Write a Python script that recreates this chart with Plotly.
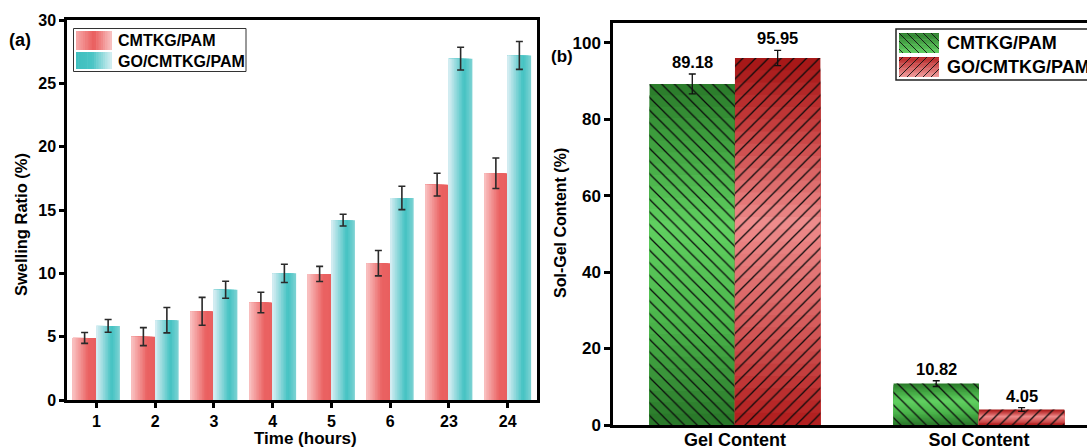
import plotly.graph_objects as go

W, H = 1087, 448
FONT = "Liberation Sans, Arial, Helvetica, sans-serif"

# ---------------- data ----------------
time_labels = ["1", "2", "3", "4", "5", "6", "23", "24"]
swell_cmtkg = [4.9, 5.0, 7.0, 7.7, 9.95, 10.8, 17.0, 17.9]
swell_cmtkg_err = [0.43, 0.71, 1.1, 0.81, 0.6, 1.0, 0.9, 1.2]
swell_go = [5.85, 6.3, 8.7, 10.0, 14.2, 15.95, 26.95, 27.2]
swell_go_err = [0.5, 1.0, 0.67, 0.72, 0.46, 0.92, 0.9, 1.1]

content_labels = ["Gel Content", "Sol Content"]
content_cmtkg = [89.18, 10.82]
content_cmtkg_err = [2.6, 0.75]
content_go = [95.95, 4.05]
content_go_err = [2.0, 0.5]

series_names = ["CMTKG/PAM", "GO/CMTKG/PAM"]


# ---------------- helpers ----------------
def hex2rgb(h):
    h = h.lstrip("#")
    return [int(h[i:i + 2], 16) for i in (0, 2, 4)]


def grad(stops, t):
    for (p0, c0), (p1, c1) in zip(stops[:-1], stops[1:]):
        if p0 <= t <= p1:
            f = 0 if p1 == p0 else (t - p0) / (p1 - p0)
            a, b = hex2rgb(c0), hex2rgb(c1)
            r = [round(a[i] + (b[i] - a[i]) * f) for i in range(3)]
            return "rgb(%d,%d,%d)" % tuple(r)
    return stops[-1][1]


def px(x, y):
    return x / W, 1 - y / H


pink_stops = [(0, "#fac3c3"), (0.65, "#ea6262"), (1, "#e95f5f")]
teal_stops = [(0, "#d9eef4"), (0.65, "#43c2c2"), (1, "#7fd3d4")]
green_stops = [(0, "#287528"), (0.3, "#4bb54b"), (0.58, "#60d060"), (0.85, "#3c9c3c"), (1, "#2a7a2a")]
red_stops = [(0, "#b01c1c"), (0.3, "#d86060"), (0.55, "#ee8c8c"), (0.82, "#c43c3c"), (1, "#a41414")]

fig = go.Figure()

# ---------------- panel (a): gradient bars ----------------
NS = 14
HALF = 0.4
for vals, errs, stops, off in [
    (swell_cmtkg, swell_cmtkg_err, pink_stops, -HALF),
    (swell_go, swell_go_err, teal_stops, 0.0),
]:
    for j in range(NS - 1, -1, -1):
        fig.add_trace(go.Bar(
            x=time_labels, y=vals, offset=off, width=HALF * (j + 1) / NS,
            marker=dict(color=grad(stops, (j + 0.5) / NS), line=dict(width=0)),
            xaxis="x", yaxis="y", showlegend=False, hoverinfo="skip"))
    fig.add_trace(go.Bar(
        x=time_labels, y=vals, offset=off, width=HALF,
        marker=dict(color="rgba(0,0,0,0)", line=dict(width=0)),
        error_y=dict(type="data", array=errs, color="#2a2a2a", thickness=1.6, width=3.5),
        xaxis="x", yaxis="y", showlegend=False))

# ---------------- panel (b): vertical gradient + hatch ----------------
NV = 30
BW = 0.35
for vals, errs, stops, off, shape in [
    (content_cmtkg, content_cmtkg_err, green_stops, -BW, "\\"),
    (content_go, content_go_err, red_stops, 0.0, "/"),
]:
    for j in range(NV - 1, -1, -1):
        fig.add_trace(go.Bar(
            x=content_labels, y=[v * (j + 1) / NV for v in vals], offset=off, width=BW,
            marker=dict(color=grad(stops, (j + 0.5) / NV), line=dict(width=0)),
            xaxis="x2", yaxis="y2", showlegend=False, hoverinfo="skip"))
    fig.add_trace(go.Bar(
        x=content_labels, y=vals, offset=off, width=BW,
        marker=dict(color="rgba(0,0,0,0)", line=dict(width=0),
                    pattern=dict(shape=shape, fgcolor="#0a0a0a", bgcolor="rgba(0,0,0,0)",
                                 size=9, solidity=0.14)),
        error_y=dict(type="data", array=errs, color="#111111", thickness=1.3, width=3.5),
        xaxis="x2", yaxis="y2", showlegend=False))

annotations = []
for vals, errs, dx in [(content_cmtkg, content_cmtkg_err, -BW / 2), (content_go, content_go_err, BW / 2)]:
    for i, (v, e) in enumerate(zip(vals, errs)):
        annotations.append(dict(
            x=i + dx, y=v + e, xref="x2", yref="y2", text="%.2f" % v,
            showarrow=False, yanchor="bottom", yshift=1,
            font=dict(family=FONT, size=16.5, color="black", weight="bold")))


def ann(text, x, y, size, angle=0, xanchor="center"):
    xp, yp = px(x, y)
    annotations.append(dict(x=xp, y=yp, xref="paper", yref="paper", text=text, showarrow=False,
                            textangle=angle, xanchor=xanchor, yanchor="middle",
                            font=dict(family=FONT, size=size, color="black", weight="bold")))


# axis titles and panel labels
ann("Swelling Ratio (%)", 21, 225, 16.5, -90)
ann("Time (hours)", 305, 438, 17)
ann("Sol-Gel Content (%)", 560, 223, 16, -90)
ann("(a)", 20, 40, 18)
ann("(b)", 562, 57, 17)

# ---------------- legends (drawn manually) ----------------
shapes = []


def rect(x0, y0, x1, y1, fill=None, line_color=None, lw=0):
    a, b = px(x0, y0)
    c, d = px(x1, y1)
    shapes.append(dict(type="rect", xref="paper", yref="paper", x0=a, y0=d, x1=c, y1=b,
                       fillcolor=fill or "rgba(0,0,0,0)",
                       line=dict(color=line_color or "rgba(0,0,0,0)", width=lw)))


def grad_patch(x0, y0, x1, y1, stops, horizontal=True, n=16):
    for k in range(n):
        t = (k + 0.5) / n
        if horizontal:
            a = x0 + (x1 - x0) * k / n
            b = x0 + (x1 - x0) * (k + 1) / n + 0.6
            rect(a, y0, min(b, x1), y1, fill=grad(stops, t))
        else:
            a = y0 + (y1 - y0) * k / n
            b = y0 + (y1 - y0) * (k + 1) / n + 0.6
            rect(x0, a, x1, min(b, y1), fill=grad(stops, t))


def hatch(x0, y0, x1, y1, kind, step=8.0):
    path = []
    cmin = x0 - y1 if kind == "\\" else x0 + y0
    cmax = x1 - y0 if kind == "\\" else x1 + y1
    c = cmin + step / 2
    while c < cmax:
        if kind == "\\":
            xa, xb = max(x0, c + y0), min(x1, c + y1)
            ya, yb = xa - c, xb - c
        else:
            xa, xb = max(x0, c - y1), min(x1, c - y0)
            ya, yb = c - xa, c - xb
        if xb > xa:
            p0, p1 = px(xa, ya), px(xb, yb)
            path.append("M%.5f,%.5f L%.5f,%.5f" % (p0[0], p0[1], p1[0], p1[1]))
        c += step
    shapes.append(dict(type="path", xref="paper", yref="paper", path=" ".join(path),
                       line=dict(color="#111111", width=0.9)))


# left legend
rect(73.5, 28.5, 246, 71.5, line_color="#333333", lw=1)
grad_patch(76, 31, 112, 50, [(0, "#f7aaaa"), (0.5, "#e95c5c"), (1, "#f9c6c6")])
grad_patch(76, 52, 112, 69, [(0, "#3fbfbf"), (0.45, "#49c4c4"), (1, "#d8eff3")])
ann(series_names[0], 116, 40.5, 16, xanchor="left")
ann(series_names[1], 116, 61, 16, xanchor="left")

# right legend
rect(896, 29, 1110, 80, line_color="#222222", lw=1.5)
grad_patch(899, 33, 939, 53, [(0, "#2e7f2e"), (1, "#63d163")], horizontal=False)
hatch(899, 33, 939, 53, "\\")
grad_patch(899, 57, 939, 77, [(0, "#b52222"), (1, "#f29c9c")], horizontal=False)
hatch(899, 57, 939, 77, "/")
ann(series_names[0], 945, 43, 18, xanchor="left")
ann(series_names[1], 945, 67, 18, xanchor="left")

# ---------------- layout ----------------
axis_common = dict(showline=True, linecolor="black", showgrid=False, zeroline=False,
                   automargin=False,
                   tickfont=dict(family=FONT, size=16, color="black", weight="bold"))

fig.update_layout(
    template="none",
    width=W, height=H, margin=dict(l=0, r=0, t=0, b=0, pad=0),
    paper_bgcolor="white", plot_bgcolor="white", barmode="overlay",
    showlegend=False,
    xaxis=dict(axis_common, domain=[67 / W, 537 / W], anchor="y", type="category",
               categoryorder="array", categoryarray=time_labels,
               range=[-0.5, 7.5], linewidth=2.5, mirror=True,
               ticks="outside", ticklen=5, tickwidth=2.5, tickcolor="black"),
    yaxis=dict(axis_common, domain=[48 / H, 428 / H], anchor="x", range=[0, 30], dtick=5,
               linewidth=2.5, mirror=True,
               ticks="outside", ticklen=5, tickwidth=2.5, tickcolor="black"),
    xaxis2=dict(axis_common, domain=[613 / W, 1.0], anchor="y2", type="category",
                categoryorder="array", categoryarray=content_labels,
                range=[-0.5, 1.443], linewidth=3, mirror=True, ticks="",
                ticklabelstandoff=-4,
                tickfont=dict(family=FONT, size=18, color="black", weight="bold")),
    yaxis2=dict(axis_common, domain=[23 / H, 425.3 / H], anchor="x2", range=[0, 105.2], dtick=20,
                linewidth=2.5, mirror=False,
                ticks="outside", ticklen=6, tickwidth=2.5, tickcolor="black",
                tickfont=dict(family=FONT, size=17, color="black", weight="bold")),
    annotations=annotations,
    shapes=shapes,
)

fig.write_html("out.html", config={"displayModeBar": False},
               post_script="document.body.style.margin='0';document.body.style.overflow='hidden';")
